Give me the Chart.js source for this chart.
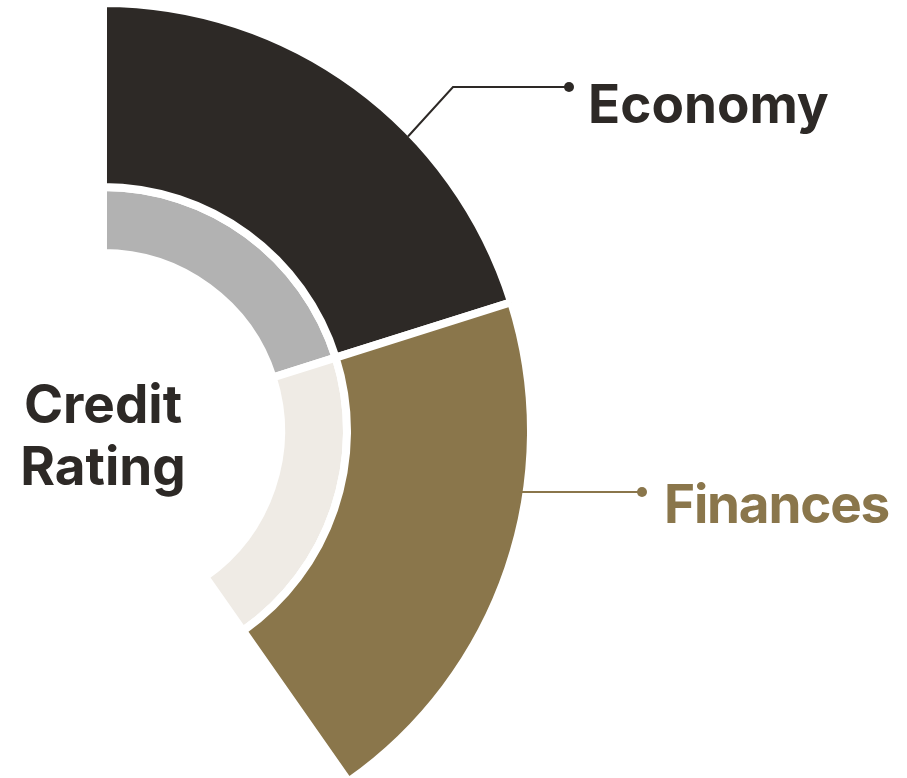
<!DOCTYPE html>
<html>
<head>
<meta charset="utf-8">
<title>Credit Rating</title>
<script src="https://cdn.jsdelivr.net/npm/chart.js@4/dist/chart.umd.min.js"></script>
<style>
  html, body { margin: 0; padding: 0; background: #fff; }
  canvas { display: block; }
</style>
</head>
<body>
<canvas id="rating" width="907" height="778"></canvas>
<script>
// gegevens
var categories = ['Economy', 'Finances'];
var outerValues = [50, 50];
var innerValues = [50, 50];
var outerColors = ['#2d2926', '#8a764b'];
var innerColors = ['#b2b2b2', '#efebe5'];
var centerLines = ['Credit', 'Rating'];

// geometrie van de boog
var W = 907, H = 778;
var sweep = 145;            // graden, vanaf boven met de klok mee
var border = 8;
var radius = 428;
var innerEdge = 178;
var center = { x: 103, y: 431 };

// chart.js schuift het midden van een gedeeltelijke boog op, padding compenseert dat
var offY = (1 + Math.cos(sweep * Math.PI / 180)) / 2;
var padRight = W - 2 * (center.x + radius / 2);
var padTop = 2 * (center.y - offY * radius) - H;

var font = '700 53px Inter, "Noto Sans", sans-serif';

var labelsPlugin = {
  id: 'labels',
  afterDraw: function(chart) {
    var ctx = chart.ctx;
    var arc = chart.getDatasetMeta(0).data[0];
    var cx = arc.x, cy = arc.y;
    var r = arc.outerRadius - border / 2;

    ctx.save();
    ctx.font = font;

    // tekst in het midden
    ctx.fillStyle = outerColors[0];
    ctx.textAlign = 'center';
    ctx.textBaseline = 'alphabetic';
    ctx.fillText(centerLines[0], cx, cy - 8);
    ctx.fillText(centerLines[1], cx, cy + 54);

    // Economy lijntje
    var a = (46 - 90) * Math.PI / 180;
    ctx.strokeStyle = outerColors[0];
    ctx.lineWidth = 2;
    ctx.beginPath();
    ctx.moveTo(cx + r * Math.cos(a), cy + r * Math.sin(a));
    ctx.lineTo(453, 87);
    ctx.lineTo(569, 87);
    ctx.stroke();
    ctx.fillStyle = outerColors[0];
    ctx.beginPath();
    ctx.arc(569, 87, 5, 0, Math.PI * 2);
    ctx.fill();
    ctx.textAlign = 'left';
    ctx.fillText(categories[0], 588, 123);

    // Finances lijntje
    var ly = 492;
    var lx = cx + Math.sqrt(r * r - (ly - cy) * (ly - cy));
    ctx.strokeStyle = outerColors[1];
    ctx.beginPath();
    ctx.moveTo(lx - 3, ly);
    ctx.lineTo(642, ly);
    ctx.stroke();
    ctx.fillStyle = outerColors[1];
    ctx.beginPath();
    ctx.arc(642, ly, 5, 0, Math.PI * 2);
    ctx.fill();
    ctx.letterSpacing = '-1.2px';
    ctx.fillText(categories[1], 664, 523);

    ctx.restore();
  }
};

var ctx = document.getElementById('rating').getContext('2d');
var myChart = new Chart(ctx, {
  type: 'doughnut',
  data: {
    labels: categories,
    datasets: [{
      data: outerValues,
      backgroundColor: outerColors,
      borderColor: '#fff',
      borderWidth: border,
      weight: radius - 244
    }, {
      data: innerValues,
      backgroundColor: innerColors,
      borderColor: '#fff',
      borderWidth: border,
      weight: 244 - innerEdge
    }]
  },
  options: {
    responsive: false,
    devicePixelRatio: 1,
    animation: false,
    rotation: 0,
    circumference: sweep,
    radius: radius,
    cutout: (innerEdge / radius * 100) + '%',
    layout: { padding: { left: 0, right: padRight, top: padTop, bottom: 0 } },
    plugins: {
      legend: { display: false },
      tooltip: { enabled: false }
    }
  },
  plugins: [labelsPlugin]
});
</script>
</body>
</html>
